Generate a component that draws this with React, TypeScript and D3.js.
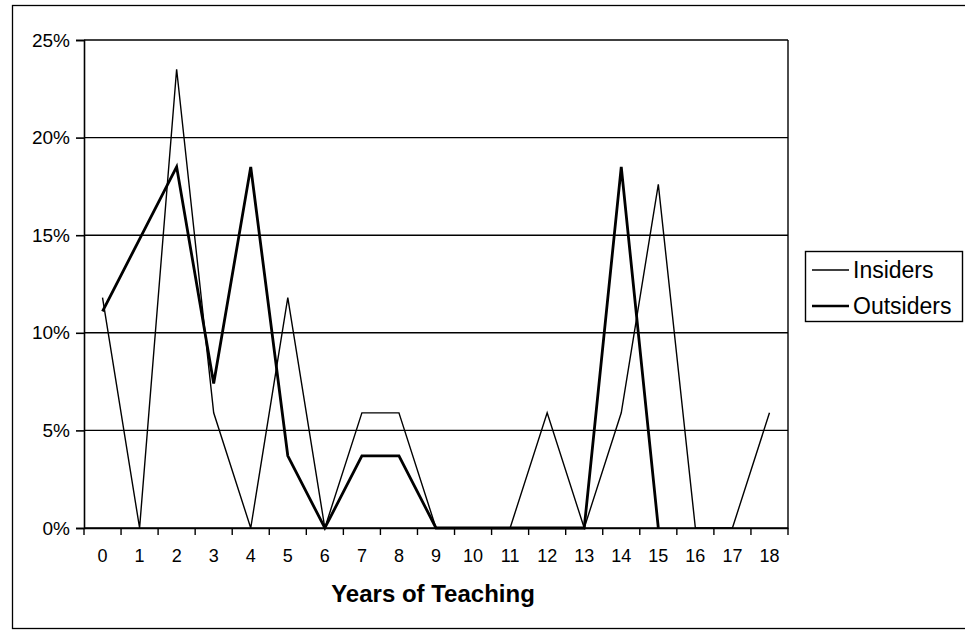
import { useRef, useEffect } from "react";
import * as d3 from "d3";

const years: string[] = ["0", "1", "2", "3", "4", "5", "6", "7", "8", "9", "10", "11", "12", "13", "14", "15", "16", "17", "18"];
// percentages
const insiders: (number | null)[] = [11.8, 0, 23.5, 5.9, 0, 11.8, 0, 5.9, 5.9, 0, 0, 0, 5.9, 0, 5.9, 17.6, 0, 0, 5.9];
const outsiders: (number | null)[] = [11.1, 14.8, 18.5, 7.4, 18.5, 3.7, 0, 3.7, 3.7, 0, 0, 0, 0, 0, 18.5, 0, null, null, null];
const yTicks: number[] = [0, 5, 10, 15, 20, 25];
const seriesNames = ["Insiders", "Outsiders"];

const App: React.FC = () => {
    const svgRef = useRef<SVGSVGElement | null>(null);

    useEffect(() => {
        if (!svgRef.current) return;
        const width = 965;
        const height = 631;
        const left = 84;
        const right = 788;
        const top = 40;
        const bottom = 528;
        const font = "Liberation Sans, Arial, sans-serif";

        const svg = d3.select(svgRef.current);
        svg.selectAll("*").remove();
        svg.attr("width", width).attr("height", height);

        svg.append("rect")
            .attr("width", width)
            .attr("height", height)
            .attr("fill", "#fff");

        // outer frame
        svg.append("rect")
            .attr("x", 12.5)
            .attr("y", 5.5)
            .attr("width", 970)
            .attr("height", 623)
            .attr("fill", "none")
            .attr("stroke", "#000")
            .attr("stroke-width", 1.3);

        const x = d3.scaleBand<string>().domain(years).range([left, right]);
        const y = d3.scaleLinear().domain([0, 25]).range([bottom, top]);

        // gridlines
        svg.append("g")
            .selectAll("line")
            .data(yTicks)
            .join("line")
            .attr("x1", left)
            .attr("x2", right)
            .attr("y1", (d) => y(d))
            .attr("y2", (d) => y(d))
            .attr("stroke", "#000")
            .attr("stroke-width", 1.4);

        // right border of plot
        svg.append("line")
            .attr("x1", right)
            .attr("x2", right)
            .attr("y1", top)
            .attr("y2", bottom)
            .attr("stroke", "#000")
            .attr("stroke-width", 1.4);

        const yAxis = svg
            .append("g")
            .attr("transform", `translate(${left},0)`)
            .call(
                d3.axisLeft(y)
                    .tickValues(yTicks)
                    .tickSize(8)
                    .tickPadding(6)
                    .tickFormat((d) => `${d}%`),
            );
        yAxis.selectAll("path,line").attr("stroke", "#000").attr("stroke-width", 1.6);
        yAxis.selectAll("text")
            .attr("font-family", font)
            .attr("font-size", 19)
            .attr("fill", "#000");

        const xAxis = svg
            .append("g")
            .attr("transform", `translate(0,${bottom})`)
            .call(d3.axisBottom(x).tickSize(0).tickPadding(21));
        xAxis.select("path").attr("stroke", "#000").attr("stroke-width", 1.6);
        xAxis.selectAll("text")
            .attr("font-family", font)
            .attr("font-size", 18)
            .attr("fill", "#000");

        // tick marks between categories
        const bounds = years.map((d) => x(d) ?? 0).concat([right]);
        svg.append("g")
            .selectAll("line")
            .data(bounds)
            .join("line")
            .attr("x1", (d) => d)
            .attr("x2", (d) => d)
            .attr("y1", bottom)
            .attr("y2", bottom + 7)
            .attr("stroke", "#000")
            .attr("stroke-width", 1.4);

        svg.append("text")
            .attr("x", 433)
            .attr("y", 602)
            .attr("text-anchor", "middle")
            .attr("font-family", font)
            .attr("font-size", 24)
            .attr("font-weight", "bold")
            .text("Years of Teaching");

        const line = d3
            .line<number | null>()
            .defined((d) => d !== null)
            .x((_d, i) => (x(years[i]) ?? 0) + x.bandwidth() / 2)
            .y((d) => y(d ?? 0));

        svg.append("path")
            .attr("d", line(insiders))
            .attr("fill", "none")
            .attr("stroke", "#000")
            .attr("stroke-width", 1.4);

        svg.append("path")
            .attr("d", line(outsiders))
            .attr("fill", "none")
            .attr("stroke", "#000")
            .attr("stroke-width", 2.8)
            .attr("stroke-linejoin", "miter");

        // legend
        const legend = svg.append("g");
        legend.append("rect")
            .attr("x", 805.5)
            .attr("y", 251.5)
            .attr("width", 157)
            .attr("height", 70)
            .attr("fill", "#fff")
            .attr("stroke", "#000")
            .attr("stroke-width", 1.4);
        seriesNames.forEach((name, i) => {
            const ly = 270 + i * 36;
            legend.append("line")
                .attr("x1", 812)
                .attr("x2", 849)
                .attr("y1", ly)
                .attr("y2", ly)
                .attr("stroke", "#000")
                .attr("stroke-width", i === 0 ? 1.4 : 2.4);
            legend.append("text")
                .attr("x", 853)
                .attr("y", ly + 8)
                .attr("font-family", font)
                .attr("font-size", 23)
                .text(name);
        });
    }, []);

    return <svg ref={svgRef} style={{ position: "absolute", left: 0, top: 0 }} />;
};

export default App;
